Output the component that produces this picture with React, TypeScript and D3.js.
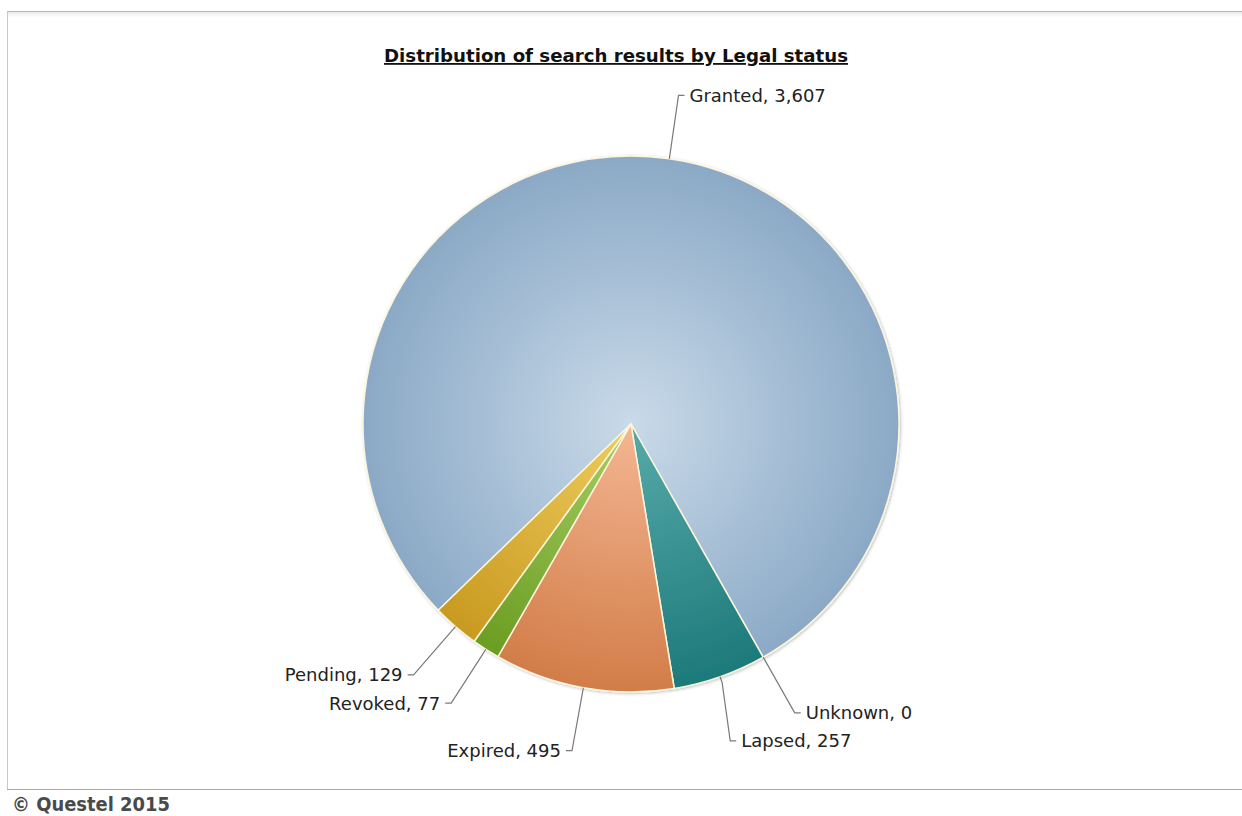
import { useEffect, useRef } from "react";
import * as d3 from "d3";

// chart values
const categories = ["Granted", "Unknown", "Lapsed", "Expired", "Revoked", "Pending"];
const counts = [3607, 0, 257, 495, 77, 129];

// slice colours: centre / rim of the radial gradient
const innerColors = ["#c9dae9", "#bdbdbd", "#58aaaa", "#f4b693", "#a8cf66", "#eecd60"];
const outerColors = ["#8ba9c6", "#8a8a8a", "#1d7a7a", "#d27d48", "#6b9d22", "#c99a20"];

const titleText = "Distribution of search results by Legal status";
const footerText = "\u00a9 Questel 2015";

const App = () => {
  const svgRef = useRef<SVGSVGElement>(null);

  useEffect(() => {
    const W = 1242;
    const H = 816;
    const cx = 631;
    const cy = 424;
    const radius = 268;

    const svg = d3.select(svgRef.current);
    svg.selectAll("*").remove();
    svg.attr("width", W).attr("height", H);

    const defs = svg.append("defs");

    // soft shadow under the pie
    const shadow = defs.append("filter").attr("id", "pieShadow")
      .attr("x", "-10%").attr("y", "-10%").attr("width", "120%").attr("height", "120%");
    shadow.append("feDropShadow")
      .attr("dx", 1).attr("dy", 1).attr("stdDeviation", 1.5)
      .attr("flood-color", "#000").attr("flood-opacity", 0.25);

    // top edge shading of the frame
    const frameGrad = defs.append("linearGradient").attr("id", "frameTop")
      .attr("x1", 0).attr("y1", 0).attr("x2", 0).attr("y2", 1);
    frameGrad.append("stop").attr("offset", 0).attr("stop-color", "#e8e8e8");
    frameGrad.append("stop").attr("offset", 1).attr("stop-color", "#ffffff");

    // gradients are in the pie group's own space (centre at 0,0)
    categories.forEach((_, i) => {
      const g = defs.append("radialGradient")
        .attr("id", `slice${i}`)
        .attr("gradientUnits", "userSpaceOnUse")
        .attr("cx", 0).attr("cy", 0).attr("r", radius);
      g.append("stop").attr("offset", 0).attr("stop-color", innerColors[i]);
      g.append("stop").attr("offset", 1).attr("stop-color", outerColors[i]);
    });

    svg.append("rect").attr("width", W).attr("height", H).attr("fill", "#fff");

    // frame
    svg.append("rect").attr("x", 7).attr("y", 12).attr("width", W).attr("height", 5)
      .attr("fill", "url(#frameTop)");
    svg.append("line").attr("x1", 7).attr("x2", W).attr("y1", 11.5).attr("y2", 11.5)
      .attr("stroke", "#b8b8b8").attr("stroke-width", 1.2);
    svg.append("line").attr("x1", 7.5).attr("x2", 7.5).attr("y1", 11).attr("y2", 789)
      .attr("stroke", "#c8c8c8");
    svg.append("line").attr("x1", 7).attr("x2", W).attr("y1", 789.5).attr("y2", 789.5)
      .attr("stroke", "#a8a8a8");

    // title
    svg.append("text")
      .attr("x", 616).attr("y", 62)
      .attr("text-anchor", "middle")
      .attr("font-family", "'DejaVu Sans Condensed', 'DejaVu Sans', sans-serif")
      .attr("font-stretch", "condensed")
      .attr("font-weight", "bold")
      .attr("font-size", 18)
      .attr("fill", "#111")
      .attr("text-decoration", "underline")
      .attr("textLength", 464)
      .attr("lengthAdjust", "spacingAndGlyphs")
      .text(titleText);

    // footer
    svg.append("text")
      .attr("x", 12).attr("y", 811)
      .attr("font-family", "'DejaVu Sans Condensed', 'DejaVu Sans', sans-serif")
      .attr("font-stretch", "condensed")
      .attr("font-weight", "bold")
      .attr("font-size", 19)
      .attr("fill", "#4a4a4a")
      .attr("textLength", 158)
      .attr("lengthAdjust", "spacingAndGlyphs")
      .text(footerText);

    const start = (-134 * Math.PI) / 180;
    const pie = d3.pie<number>().sort(null).value(d => d)
      .startAngle(start).endAngle(start + 2 * Math.PI);
    const arcs = pie(counts);
    const arc = d3.arc<d3.PieArcDatum<number>>().innerRadius(0).outerRadius(radius);

    const pieG = svg.append("g").attr("transform", `translate(${cx},${cy})`)
      .attr("filter", "url(#pieShadow)");
    pieG.selectAll("path")
      .data(arcs.filter(a => a.value > 0))
      .join("path")
      .attr("d", arc)
      .attr("fill", d => `url(#slice${d.index})`)
      .attr("stroke", "#fbf6dc")
      .attr("stroke-width", 1.5)
      .attr("stroke-linejoin", "round");

    // data labels with connectors
    const R = radius + 64; // label anchor circle
    const gap = 28;
    const items = arcs.map(a => {
      const mid = (a.startAngle + a.endAngle) / 2;
      const right = Math.sin(mid) >= 0;
      return { a, mid, right, y: cy - R * Math.cos(mid), x: 0 };
    });
    [true, false].forEach(side => {
      const list = items.filter(d => d.right === side).sort((p, q) => p.y - q.y);
      for (let k = 1; k < list.length; k++) {
        if (list[k].y < list[k - 1].y + gap) list[k].y = list[k - 1].y + gap;
      }
    });
    items.forEach(d => {
      const dy = d.y - cy;
      d.x = cx + (d.right ? 1 : -1) * Math.sqrt(Math.max(0, R * R - dy * dy));
    });

    const lab = svg.append("g");
    items.forEach(d => {
      const s = d.right ? 1 : -1;
      const ex = cx + radius * Math.sin(d.mid);
      const ey = cy - radius * Math.cos(d.mid);
      const bx = cx + (radius + 6) * Math.sin(d.mid);
      const by = cy - (radius + 6) * Math.cos(d.mid);
      const path = d3.path();
      path.moveTo(d.x + s * 6, d.y);
      path.lineTo(d.x, d.y);
      path.lineTo(bx, by);
      path.lineTo(ex, ey);
      lab.append("path").attr("d", path.toString())
        .attr("fill", "none").attr("stroke", "#7a7a7a").attr("stroke-width", 1.2);
      lab.append("text")
        .attr("x", d.x + s * 11).attr("y", d.y)
        .attr("dy", "0.36em")
        .attr("text-anchor", d.right ? "start" : "end")
        .attr("font-family", "'DejaVu Sans', Verdana, sans-serif")
        .attr("font-size", 18)
        .attr("fill", "#222")
        .text(`${categories[d.a.index]}, ${d3.format(",")(d.a.value)}`);
    });
  }, []);

  return (
    <svg ref={svgRef} style={{ position: "absolute", left: 0, top: 0, display: "block" }} />
  );
};

export default App;
